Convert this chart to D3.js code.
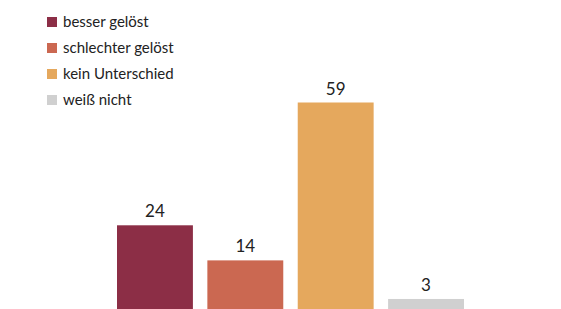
<!DOCTYPE html>
<html>
<head>
<meta charset="utf-8">
<script src="https://cdn.jsdelivr.net/npm/d3@7"></script>
<style>
  body { margin: 0; background: #fff; }
  svg { display: block; font-family: Lato, "Open Sans", sans-serif; }
</style>
</head>
<body>
<svg id="chart" width="561" height="309"></svg>
<script>
const categories = ["besser gelöst", "schlechter gelöst", "kein Unterschied", "weiß nicht"];
const values = [24, 14, 59, 3];
const colors = ["#8c2e46", "#cb6851", "#e5a85d", "#d0d0d0"];

const width = 561, height = 309;
const svg = d3.select("#chart");

// bars
let x = d3.scaleBand().domain(categories).range([117, 464]).paddingInner(0.16).paddingOuter(0);
let y = d3.scaleLinear().domain([0, 59]).range([309.5, 102.5]);

svg.selectAll("rect.bar").data(values).enter().append("rect")
  .attr("class", "bar")
  .attr("x", (d, i) => x(categories[i]))
  .attr("y", d => y(d))
  .attr("width", x.bandwidth())
  .attr("height", d => y(0) - y(d))
  .attr("fill", (d, i) => colors[i]);

svg.selectAll("text.val").data(values).enter().append("text")
  .attr("class", "val")
  .attr("x", (d, i) => x(categories[i]) + x.bandwidth() / 2)
  .attr("y", d => y(d) - 8)
  .attr("text-anchor", "middle")
  .attr("font-size", 17)
  .attr("fill", "#222")
  .text(d => d);

// legend
let legend = svg.selectAll("g.leg").data(categories).enter().append("g")
  .attr("class", "leg")
  .attr("transform", (d, i) => "translate(47," + (17 + i * 26) + ")");
legend.append("rect").attr("width", 10).attr("height", 10).attr("fill", (d, i) => colors[i]);
legend.append("text")
  .attr("x", 16).attr("y", 10)
  .attr("font-size", 15)
  .attr("fill", "#222")
  .text(d => d);
</script>
</body>
</html>
